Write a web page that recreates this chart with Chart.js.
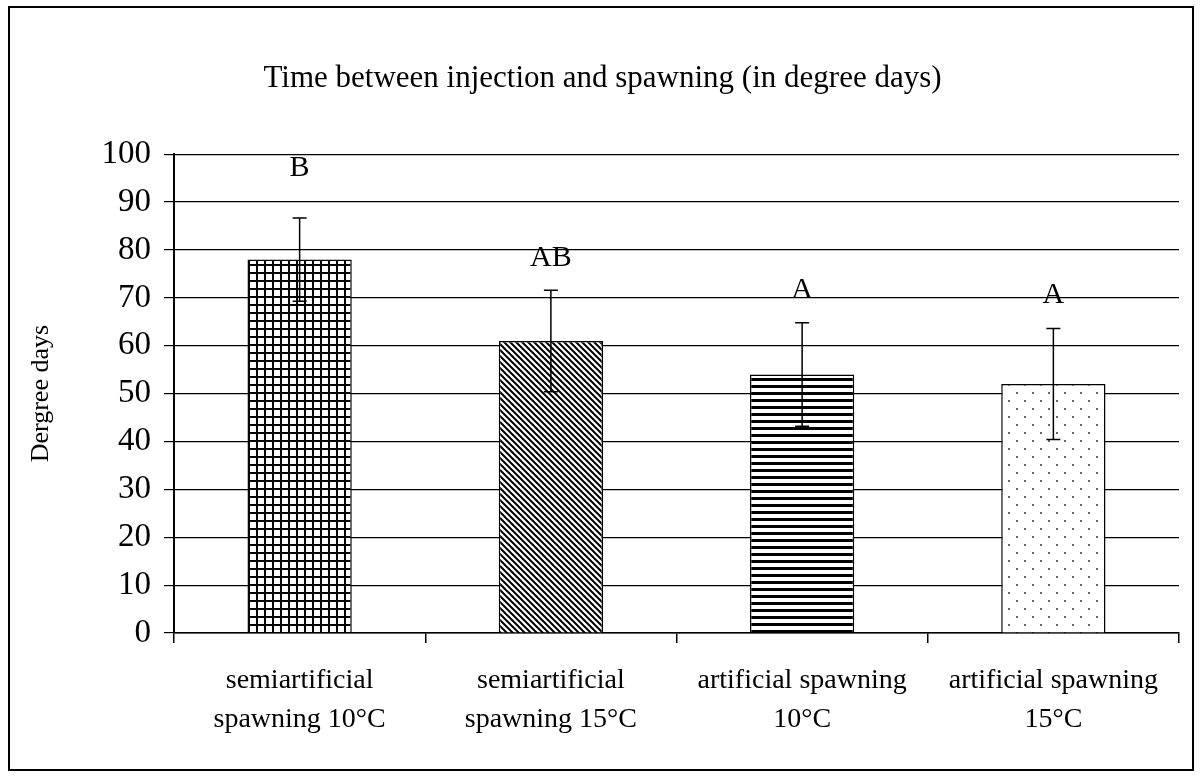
<!DOCTYPE html>
<html>
<head>
<meta charset="utf-8">
<script src="https://cdn.jsdelivr.net/npm/chart.js@4.4.0/dist/chart.umd.min.js"></script>
<style>
  body { margin: 0; background: #fff; }
  #wrap { width: 1202px; height: 778px; }
</style>
</head>
<body>
<div id="wrap"><canvas id="degreeChart" width="1202" height="778"></canvas></div>
<script>
// data
const categories = [
  ["semiartificial", "spawning 10°C"],
  ["semiartificial", "spawning 15°C"],
  ["artificial spawning", "10°C"],
  ["artificial spawning", "15°C"],
];
const meanDegreeDays = [78, 61, 54, 52];
const sdDegreeDays = [8.7, 10.6, 10.8, 11.6];
const groupLetters = ["B", "AB", "A", "A"];
const letterLevels = [97, 78.3, 71.6, 70.6]; // where the letters sit, in degree days
const yMin = 0;
const yMax = 100;
const yStep = 10;

const serif = "'Liberation Serif', 'Times New Roman', serif";

// hatch fills like the old excel patterns
function makePattern(kind) {
  const c = document.createElement("canvas");
  const ctx = c.getContext("2d");
  let s = 8;
  if (kind === "grid") s = 8;
  if (kind === "diag") s = 6;
  if (kind === "horiz") s = 7;
  if (kind === "dots") s = 16;
  c.width = s;
  c.height = s;
  ctx.fillStyle = "#fff";
  ctx.fillRect(0, 0, s, s);
  ctx.fillStyle = "#000";
  ctx.strokeStyle = "#000";
  if (kind === "grid") {
    ctx.fillRect(0, 0, 2, s);
    ctx.fillRect(0, 0, s, 2);
  } else if (kind === "diag") {
    ctx.lineWidth = 2;
    ctx.beginPath();
    ctx.moveTo(-1, -1); ctx.lineTo(s + 1, s + 1);
    ctx.moveTo(-1, s - 1); ctx.lineTo(1, s + 1);
    ctx.moveTo(s - 1, -1); ctx.lineTo(s + 1, 1);
    ctx.stroke();
  } else if (kind === "horiz") {
    ctx.fillRect(0, 0, s, 3);
  } else if (kind === "dots") {
    ctx.fillStyle = "#666";
    ctx.fillRect(0, 0, 2, 2);
    ctx.fillRect(8, 8, 2, 2);
  }
  return document.getElementById("degreeChart").getContext("2d").createPattern(c, "repeat");
}

const fills = [makePattern("grid"), makePattern("diag"), makePattern("horiz"), makePattern("dots")];

const extrasPlugin = {
  id: "extras",
  beforeDraw(chart) {
    const ctx = chart.ctx;
    ctx.save();
    ctx.fillStyle = "#fff";
    ctx.fillRect(0, 0, chart.width, chart.height);
    ctx.restore();
  },
  afterDraw(chart) {
    const ctx = chart.ctx;
    const y = chart.scales.y;
    const meta = chart.getDatasetMeta(0);
    ctx.save();
    // error bars
    ctx.strokeStyle = "#000";
    ctx.lineWidth = 1.5;
    meta.data.forEach((bar, i) => {
      const top = y.getPixelForValue(meanDegreeDays[i] + sdDegreeDays[i]);
      const bot = y.getPixelForValue(meanDegreeDays[i] - sdDegreeDays[i]);
      ctx.beginPath();
      ctx.moveTo(bar.x, top); ctx.lineTo(bar.x, bot);
      ctx.moveTo(bar.x - 7, top); ctx.lineTo(bar.x + 7, top);
      ctx.moveTo(bar.x - 7, bot); ctx.lineTo(bar.x + 7, bot);
      ctx.stroke();
    });
    // significance letters
    ctx.fillStyle = "#000";
    ctx.font = "30px " + serif;
    ctx.textAlign = "center";
    ctx.textBaseline = "middle";
    meta.data.forEach((bar, i) => {
      ctx.fillText(groupLetters[i], bar.x, y.getPixelForValue(letterLevels[i]));
    });
    // outer frame
    ctx.lineWidth = 2;
    ctx.strokeRect(9, 7, 1184, 763);
    ctx.restore();
  },
};

new Chart(document.getElementById("degreeChart"), {
  type: "bar",
  data: {
    labels: categories,
    datasets: [
      {
        data: meanDegreeDays,
        backgroundColor: fills,
        borderColor: "#000",
        borderWidth: 1.5,
        barPercentage: 0.415,
        categoryPercentage: 1,
      },
    ],
  },
  options: {
    responsive: false,
    animation: false,
    layout: { padding: { left: 26, right: 23, top: 0, bottom: 10 } },
    plugins: {
      legend: { display: false },
      tooltip: { enabled: false },
      title: {
        display: true,
        text: "Time between injection and spawning (in degree days)",
        color: "#000",
        font: { family: serif, size: 31, weight: "normal", lineHeight: 1.2 },
        padding: { top: 60, bottom: 57 },
      },
    },
    scales: {
      x: {
        grid: {
          display: true,
          drawOnChartArea: false,
          drawTicks: true,
          tickLength: 10,
          color: "#000",
          lineWidth: 1.5,
          offset: true,
        },
        border: { color: "#000", width: 1.5 },
        ticks: {
          color: "#000",
          padding: 18,
          maxRotation: 0,
          font: { family: serif, size: 28, lineHeight: 1.4 },
        },
        afterFit(scale) { scale.height = 135; },
      },
      y: {
        min: yMin,
        max: yMax,
        grid: { color: "#000", lineWidth: 1.2, tickLength: 10 },
        border: { color: "#000", width: 2 },
        ticks: {
          stepSize: yStep,
          color: "#000",
          padding: 13,
          font: { family: serif, size: 33 },
        },
        title: {
          display: true,
          text: "Dergree days",
          color: "#000",
          padding: 0,
          font: { family: serif, size: 26 },
        },
        afterFit(scale) { scale.width = 148; },
      },
    },
  },
  plugins: [extrasPlugin],
});
</script>
</body>
</html>
